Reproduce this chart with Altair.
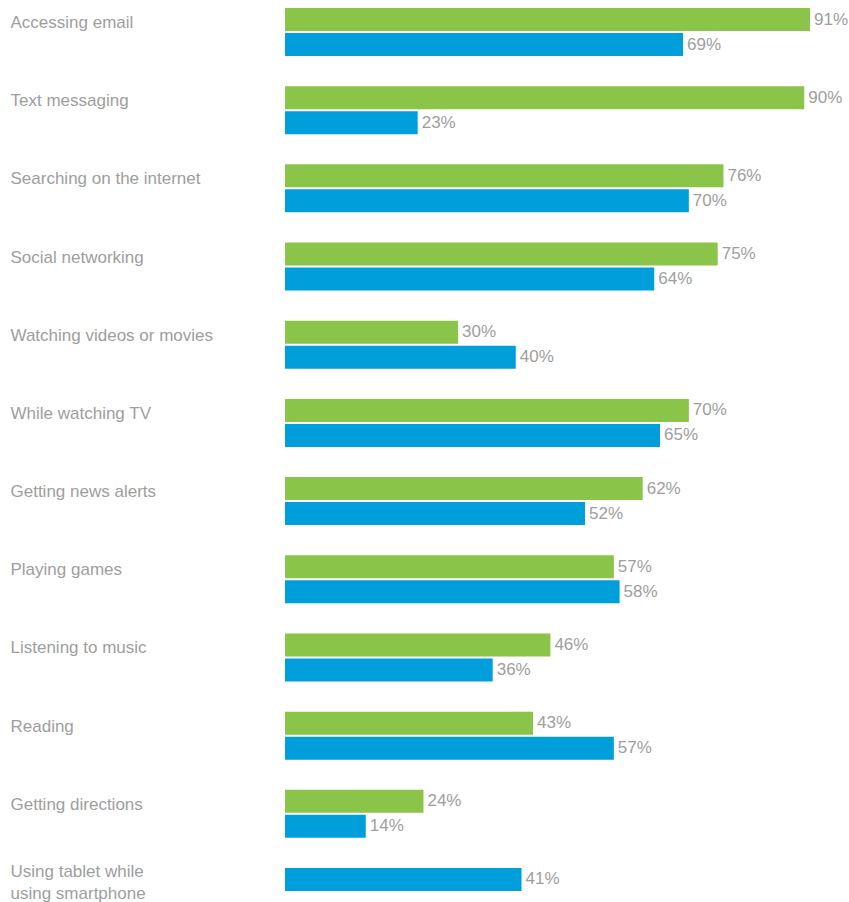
import altair as alt
import pandas as pd

categories = [
    "Accessing email",
    "Text messaging",
    "Searching on the internet",
    "Social networking",
    "Watching videos or movies",
    "While watching TV",
    "Getting news alerts",
    "Playing games",
    "Listening to music",
    "Reading",
    "Getting directions",
    "Using tablet while|using smartphone",
]
smartphone = [91, 90, 76, 75, 30, 70, 62, 57, 46, 43, 24, None]
tablet = [69, 23, 70, 64, 40, 65, 52, 58, 36, 57, 14, 41]
series_names = ["Smartphone", "Tablet"]
series_colors = ["#8AC449", "#009EDB"]

rows = []
for i, cat in enumerate(categories):
    slot = 0
    for name, vals in zip(series_names, [smartphone, tablet]):
        v = vals[i]
        if v is None:
            continue
        rows.append({"category": cat, "series": name, "value": v, "slot": slot,
                     "label": f"{v}%"})
        slot += 1
df = pd.DataFrame(rows)

FONT = "Liberation Sans"
GREY = "#9e9e9e"

y_enc = alt.Y(
    "category:N",
    sort=categories,
    scale=alt.Scale(paddingInner=0.386, paddingOuter=0, range=[0, 908]),
    axis=alt.Axis(
        title=None, domain=False, ticks=False, grid=False, labelAlign="left",
        labelPadding=275, labelFont=FONT, labelFontSize=17, labelColor=GREY,
        labelLimit=300,
        labelOffset=alt.condition("indexof(datum.label, '|') >= 0",
                                  alt.value(-20), alt.value(-9)),
        labelBaseline="middle",
        labelLineHeight=22, labelExpr="split(datum.label, '|')",
    ),
)
yoff = alt.YOffset("slot:O", scale=alt.Scale(paddingInner=0.08, paddingOuter=0))
x_enc = alt.X("value:Q", scale=alt.Scale(domain=[0, 91], nice=False),
              axis=None)

base = alt.Chart(df).encode(y=y_enc, yOffset=yoff, x=x_enc)

bars = base.mark_bar().encode(
    color=alt.Color("series:N", scale=alt.Scale(domain=series_names, range=series_colors),
                    legend=None)
)
texts = base.mark_text(align="left", baseline="middle", dx=4, font=FONT,
                       fontSize=17, color=GREY).encode(text="label:N")

chart = (bars + texts).properties(
    width=525, height=884,
    background="white",
    padding={"left": 10, "top": 8, "right": 0, "bottom": 0},
).configure_view(strokeWidth=0, stroke=None)

chart.save("out.html", embed_options={"renderer": "svg", "actions": False})
